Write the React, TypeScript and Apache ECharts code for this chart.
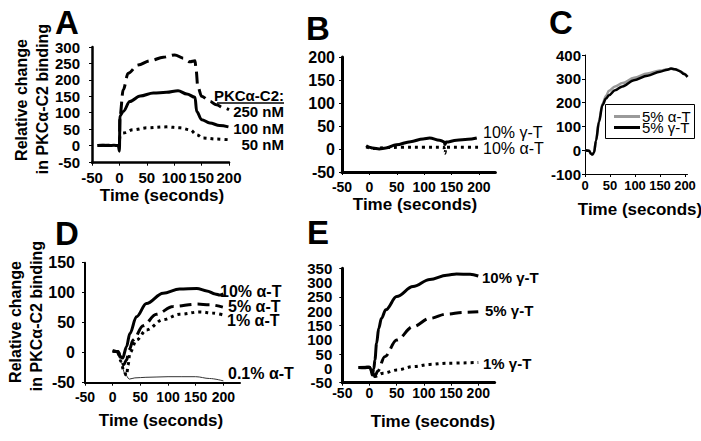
import React, { useEffect, useRef } from "react";
import * as echarts from "echarts";

const FONT = '"Liberation Sans", Arial, Helvetica, sans-serif';

// ---------- Panel A (PKCα-C2 concentrations) ----------
const A_250nM: [number, number][] = [
  [-40, 0], [-20, 1], [0, 0], [1, 89], [7, 170], [16, 220], [34, 245], [56, 258],
  [80, 269], [101, 276], [117, 266], [129, 255], [138, 258], [140, 230], [143, 180],
  [150, 150], [165, 135], [177, 124], [190, 115], [200, 109],
];
const A_100nM: [number, number][] = [
  [-40, 0], [-30, 1], [-20, 0], [-10, 1], [-2, 0], [0, -17], [1, 90], [7, 104], [19, 134],
  [38, 151], [62, 160], [86, 162], [107, 167], [123, 157], [138, 147], [141, 104],
  [150, 79], [165, 69], [183, 61], [199, 57],
];
const A_50nM: [number, number][] = [
  [0, 0], [1, 30], [7, 38], [25, 48], [50, 54], [86, 57], [111, 54], [129, 48],
  [141, 33], [153, 23], [177, 20], [199, 18],
];
// A's y tick labels, split over two stacked left axes so that none is dropped
const A_yTicks = [-50, 0, 50, 100, 150, 200, 250, 300];
const A_yTicksOdd = [-50, 50, 150, 250];
const A_yTicksEven = [0, 100, 200, 300];

// ---------- Panel B ----------
const B_gamma10: [number, number][] = [
  [-6, 7], [0, 4], [6, 2], [18, 0], [30, 2], [49, 9], [75, 16], [98, 22], [110, 24],
  [128, 19], [136, 16], [138, 10], [140, 15], [159, 19], [180, 21], [196, 24],
];
const B_alpha10: [number, number][] = [
  [-6, 4], [10, 1], [30, 3], [60, 4], [100, 4], [136, 4], [138, -9], [140, 4], [170, 4], [200, 4],
];

// ---------- Panel C ----------
const C_alpha5: [number, number][] = [
  [0, 0], [8, -2], [12, -15], [15, -18], [18, -10], [22, 40], [28, 125], [35, 195],
  [42, 228], [48, 250], [60, 268], [75, 282], [98, 304], [125, 322], [150, 335],
  [165, 340], [175, 342], [185, 338], [195, 325], [205, 308],
];
const C_gamma5: [number, number][] = [
  [0, 0], [8, -2], [12, -15], [15, -18], [18, -10], [22, 40], [28, 119], [35, 190],
  [42, 217], [48, 231], [60, 252], [75, 268], [98, 294], [125, 313], [150, 330],
  [165, 338], [172, 343], [180, 340], [190, 332], [198, 320], [205, 308],
];

// ---------- Panel D ----------
const D_alpha10: [number, number][] = [
  [0, 3], [8, 2], [12, -5], [18, -9], [25, 10], [31, 32], [43, 60], [61, 82], [91, 99],
  [121, 106], [152, 107], [170, 103], [185, 98], [194, 96], [200, 98],
];
const D_alpha5: [number, number][] = [
  [0, 3], [10, 2], [15, -10], [20, -20], [25, -12], [30, 5], [37, 21], [55, 45], [79, 64],
  [109, 77], [152, 81], [175, 80], [199, 76],
];
const D_alpha1: [number, number][] = [
  [0, 3], [10, 2], [15, -15], [20, -30], [25, -38], [28, -20], [31, 0], [43, 21], [61, 38],
  [91, 55], [121, 64], [158, 68], [180, 66], [199, 63],
];
const D_alpha01: [number, number][] = [
  [0, 3], [10, 2], [15, -15], [22, -35], [30, -44], [40, -42], [60, -41], [100, -40],
  [150, -40], [175, -43], [200, -47],
];

// ---------- Panel E ----------
const E_gamma10: [number, number][] = [
  [-20, 3], [-10, 2], [0, 4], [3, -5], [5, -23], [8, 0], [10, 30], [13, 88], [17, 140],
  [22, 175], [30, 205], [50, 251], [80, 286], [111, 311], [142, 326], [160, 330],
  [185, 329], [200, 323],
];
const E_gamma5: [number, number][] = [
  [-20, 3], [0, 4], [5, -15], [10, -27], [15, -10], [28, 41], [50, 99], [80, 146],
  [111, 175], [142, 190], [172, 196], [200, 198],
];
const E_gamma1: [number, number][] = [
  [-20, 3], [0, 4], [5, -15], [10, -28], [25, -17], [50, -6], [80, 6], [111, 14],
  [142, 18], [200, 21],
];
// E's y ticks are split over two stacked left axes so that none is dropped
const E_yTicksEven = [0, 100, 200, 300];

// ---------- texts ----------
const panelLetters = ["A", "B", "C", "D", "E"];
const xAxisName = "Time (seconds)";
const yName1 = "Relative change";
const yName2 = "in PKCα-C2 binding";
const A_labels = ["PKCα-C2:", "250 nM", "100 nM", "50 nM"];
const B_labels = ["10% γ-T", "10% α-T"];
const C_labels = ["5% α-T", "5% γ-T"];
const D_labels = ["10% α-T", "5% α-T", "1% α-T", "0.1% α-T"];
const E_labels = ["10% γ-T", "5% γ-T", "1% γ-T"];

const C_COLORS = ["#9a9a9a", "#000000"];
const DASH = [12, 6];
const DOT = [3, 4];

function mkGrid(left: number, top: number, width: number, height: number) {
  return { left, top, width, height, containLabel: false };
}

function labelStyle(fs: number, margin: number) {
  return {
    show: true,
    hideOverlap: false,
    margin,
    color: "#000",
    fontFamily: FONT,
    fontWeight: "bold",
    fontSize: fs,
    lineHeight: Math.round(fs * 0.8),
  };
}

function mkX(gi: number, min: number, max: number, interval: number, fs: number, margin: number, lw: number) {
  return {
    type: "value",
    gridIndex: gi,
    min,
    max,
    interval,
    axisLine: { show: true, onZero: false, lineStyle: { color: "#000", width: lw } },
    axisTick: { show: true, length: 3, lineStyle: { color: "#000", width: 1 } },
    splitLine: { show: false },
    axisLabel: {
      ...labelStyle(fs, margin),
      showMinLabel: true,
      showMaxLabel: max % interval === 0,
    },
  };
}

function mkY(gi: number, min: number, max: number, interval: number, fs: number, margin: number, lw: number) {
  return {
    type: "value",
    gridIndex: gi,
    position: "left",
    offset: 0,
    min,
    max,
    interval,
    axisLine: { show: true, onZero: false, lineStyle: { color: "#000", width: lw } },
    axisTick: { show: true, length: 3, lineStyle: { color: "#000", width: 1 } },
    splitLine: { show: false },
    axisLabel: { ...labelStyle(fs, margin), showMinLabel: true, showMaxLabel: true },
  };
}

// an extra left axis on the same grid that only carries the given label values
function mkYLabelsOnly(gi: number, min: number, max: number, fs: number, margin: number, values: number[]) {
  return {
    type: "value",
    gridIndex: gi,
    position: "left",
    offset: 0,
    min,
    max,
    axisLine: { show: false },
    axisTick: { show: false },
    splitLine: { show: false },
    axisLabel: { ...labelStyle(fs, margin), customValues: values, showMinLabel: true, showMaxLabel: true },
  };
}

function mkLine(name: string, gi: number, data: [number, number][], color: string, width: number, type: any) {
  return {
    name,
    type: "line",
    xAxisIndex: gi,
    yAxisIndex: gi,
    data,
    showSymbol: false,
    symbol: "none",
    smooth: 0.35,
    smoothMonotone: "x",
    lineStyle: { color, width, type, cap: "butt" },
    itemStyle: { color },
    z: 3,
  };
}

function txt(x: number, y: number, text: string, size: number, bold: boolean, align = "left", rotation = 0) {
  return {
    type: "text",
    x,
    y,
    rotation,
    style: {
      text,
      fill: "#000",
      fontFamily: FONT,
      fontSize: size,
      fontWeight: bold ? "bold" : "normal",
      align,
      verticalAlign: "middle",
    },
    z: 10,
  };
}

function hline(x1: number, x2: number, y: number, color: string, w: number) {
  return {
    type: "line",
    shape: { x1, y1: y, x2, y2: y },
    style: { stroke: color, lineWidth: w },
    z: 10,
  };
}

export default function App() {
  const ref = useRef<HTMLDivElement>(null);

  useEffect(() => {
    if (!ref.current) return;
    const chart = echarts.init(ref.current, null, { renderer: "svg" });

    // panel A: the main y axis draws the line and ticks only (its range
    // reaches a hair below -50 so that the -50 label is not the extent's min)
    const aMainY: any = {
      type: "value",
      gridIndex: 0,
      position: "left",
      offset: 0,
      min: -52,
      max: 300,
      axisLine: { show: true, onZero: false, lineStyle: { color: "#000", width: 2.5 } },
      axisTick: { show: true, length: 3, customValues: A_yTicks, lineStyle: { color: "#000", width: 1 } },
      splitLine: { show: false },
      axisLabel: { show: false },
    };

    const option: any = {
      animation: false,
      backgroundColor: "#fff",
      grid: [
        mkGrid(92, 47, 137, 115.7),
        mkGrid(342, 57, 153.4, 115),
        mkGrid(585, 55, 102.5, 119),
        mkGrid(85, 262.7, 155, 120),
        mkGrid(342.3, 268.3, 152.3, 114.4),
      ],
      xAxis: [
        mkX(0, -50, 200, 50, 15, 9, 2.5),
        mkX(1, -50, 230, 50, 14, 9, 3),
        mkX(2, 0, 205, 50, 13, 6, 1),
        mkX(3, -50, 230, 50, 14, 9, 2),
        mkX(4, -50, 230, 50, 14, 5, 3),
      ],
      yAxis: [
        aMainY,
        mkY(1, -50, 200, 50, 16, 7, 3),
        mkY(2, -100, 400, 100, 15, 4, 1),
        mkY(3, -50, 150, 50, 16, 10, 2),
        mkY(4, -50, 350, 100, 15, 10, 3),
        mkYLabelsOnly(4, -50, 350, 15, 10, E_yTicksEven),
        mkYLabelsOnly(0, -52, 300, 15, 12, A_yTicksOdd),
        mkYLabelsOnly(0, -52, 300, 15, 12, A_yTicksEven),
      ],
      series: [
        mkLine("A 250 nM", 0, A_250nM, "#000", 3, DASH),
        mkLine("A 50 nM", 0, A_50nM, "#000", 3, DOT),
        mkLine("A 100 nM", 0, A_100nM, "#000", 3, "solid"),
        mkLine("B alpha", 1, B_alpha10, "#000", 3, DOT),
        mkLine("B gamma", 1, B_gamma10, "#000", 3, "solid"),
        mkLine(C_labels[0], 2, C_alpha5, C_COLORS[0], 2.5, "solid"),
        mkLine(C_labels[1], 2, C_gamma5, C_COLORS[1], 2.5, "solid"),
        mkLine("D 0.1", 3, D_alpha01, "#333", 1, "solid"),
        mkLine("D 1", 3, D_alpha1, "#000", 3, DOT),
        mkLine("D 5", 3, D_alpha5, "#000", 3, DASH),
        mkLine("D 10", 3, D_alpha10, "#000", 3, "solid"),
        mkLine("E 1", 4, E_gamma1, "#000", 3, DOT),
        mkLine("E 5", 4, E_gamma5, "#000", 3, DASH),
        mkLine("E 10", 4, E_gamma10, "#000", 3, "solid"),
      ],
      graphic: [
        // panel letters
        txt(67, 22, panelLetters[0], 33, true, "center"),
        txt(318, 28, panelLetters[1], 33, true, "center"),
        txt(561, 22, panelLetters[2], 33, true, "center"),
        txt(67, 233, panelLetters[3], 33, true, "center"),
        txt(318, 232, panelLetters[4], 33, true, "center"),
        // x axis names
        txt(162, 195, xAxisName, 17, true, "center"),
        txt(415, 204, xAxisName, 17, true, "center"),
        txt(640, 209, xAxisName, 17, true, "center"),
        txt(161, 420, xAxisName, 17, true, "center"),
        txt(433, 421, xAxisName, 17, true, "center"),
        // y axis names
        txt(21, 100, yName1, 16, true, "center", Math.PI / 2),
        txt(42, 99, yName2, 16, true, "center", Math.PI / 2),
        txt(15, 322, yName1, 16, true, "center", Math.PI / 2),
        txt(36, 316, yName2, 16, true, "center", Math.PI / 2),
        // panel A labels
        txt(284, 95, A_labels[0], 15, true, "right"),
        hline(217, 284, 103, "#000", 1.5),
        txt(284, 111, A_labels[1], 15, true, "right"),
        txt(284, 128, A_labels[2], 15, true, "right"),
        txt(284, 144, A_labels[3], 15, true, "right"),
        // panel B labels
        txt(483, 132, B_labels[0], 16, false, "left"),
        txt(483, 148, B_labels[1], 16, false, "left"),
        // panel C legend (box, line keys, texts)
        {
          type: "rect",
          shape: { x: 605.5, y: 104.5, width: 89, height: 34 },
          style: { fill: "#fff", stroke: "#000", lineWidth: 1 },
          z: 9,
        },
        hline(614, 640, 116.5, C_COLORS[0], 3),
        hline(614, 640, 127.5, C_COLORS[1], 3),
        txt(642, 116, C_labels[0], 15, false, "left"),
        txt(642, 127, C_labels[1], 15, false, "left"),
        // panel D labels
        txt(220, 291, D_labels[0], 16, true, "left"),
        txt(228, 306, D_labels[1], 16, true, "left"),
        txt(227, 320, D_labels[2], 16, true, "left"),
        txt(228, 373, D_labels[3], 16, true, "left"),
        // panel E labels
        txt(482, 277, E_labels[0], 15, true, "left"),
        txt(485, 310, E_labels[1], 15, true, "left"),
        txt(483, 363, E_labels[2], 15, true, "left"),
      ],
    };

    chart.setOption(option);
    return () => chart.dispose();
  }, []);

  return (
    <div
      ref={ref}
      style={{ position: "absolute", left: 0, top: 0, width: 701, height: 441, background: "#fff" }}
    />
  );
}
